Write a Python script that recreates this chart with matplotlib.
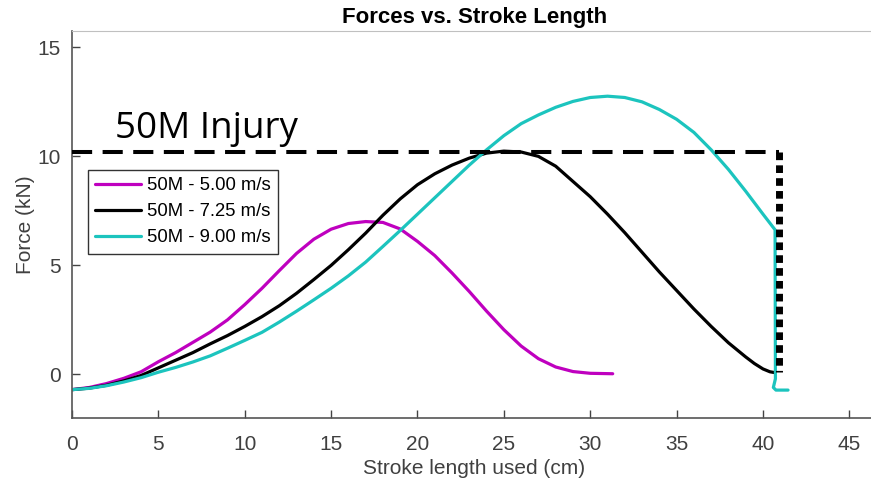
import numpy as np
import matplotlib
matplotlib.use('Agg')
import matplotlib.pyplot as plt

plt.rcParams['font.family'] = ['Liberation Sans', 'DejaVu Sans']

# Force vs stroke data
x_500 = [0, 1, 2, 3, 4, 5, 6, 7, 8, 9, 10, 11, 12, 13, 14, 15, 16, 17,
         18, 19, 20, 21, 22, 23, 24, 25, 26, 27, 28, 29, 30, 31.3]
f_500 = [-0.7, -0.6, -0.42, -0.18, 0.12, 0.58, 1.0, 1.47, 1.94, 2.5, 3.2,
         3.95, 4.76, 5.55, 6.2, 6.66, 6.92, 7.01, 6.97, 6.67, 6.1, 5.45,
         4.65, 3.8, 2.9, 2.05, 1.3, 0.72, 0.34, 0.13, 0.05, 0.03]

x_725 = [0, 1, 2, 3, 4, 5, 6, 7, 8, 9, 10, 11, 12, 13, 14, 15, 16, 17, 18,
         19, 20, 21, 22, 23, 24, 25, 26, 27, 28, 29, 30, 31, 32, 33, 34, 35,
         36, 37, 38, 39, 39.5, 40, 40.4, 40.7]
f_725 = [-0.7, -0.63, -0.5, -0.3, -0.05, 0.3, 0.65, 1.0, 1.4, 1.78, 2.2,
         2.65, 3.15, 3.72, 4.35, 5.0, 5.72, 6.48, 7.3, 8.05, 8.7, 9.2, 9.6,
         9.92, 10.15, 10.24, 10.2, 10.0, 9.55, 8.85, 8.15, 7.35, 6.5, 5.6,
         4.7, 3.85, 3.0, 2.2, 1.45, 0.8, 0.5, 0.25, 0.12, 0.08]

x_900 = [0, 1, 2, 3, 4, 5, 6, 7, 8, 9, 10, 11, 12, 13, 14, 15, 16, 17, 18,
         19, 20, 21, 22, 23, 24, 25, 26, 27, 28, 29, 30, 31, 32, 33, 34, 35,
         36, 37, 38, 39, 40, 40.7, 40.72, 40.6, 40.75, 41.45]
f_900 = [-0.7, -0.64, -0.52, -0.35, -0.15, 0.1, 0.32, 0.57, 0.85, 1.2, 1.56,
         1.93, 2.4, 2.9, 3.42, 3.95, 4.52, 5.15, 5.87, 6.6, 7.35, 8.1, 8.85,
         9.6, 10.3, 10.95, 11.5, 11.9, 12.25, 12.52, 12.7, 12.76, 12.7,
         12.5, 12.15, 11.7, 11.1, 10.3, 9.4, 8.4, 7.35, 6.63, -0.2, -0.6,
         -0.72, -0.72]

labels = ['50M - 5.00 m/s', '50M - 7.25 m/s', '50M - 9.00 m/s']
colors = ['#BF00BF', 'black', '#1CC4BE']

injury_force = 10.2
injury_stroke = 40.9

fig = plt.figure(figsize=(8.71, 4.88), dpi=100)
ax = fig.add_axes([72/871, 70/488, 805/871, 387/488])

for xs, fs, lab, c in zip([x_500, x_725, x_900], [f_500, f_725, f_900],
                          labels, colors):
    ax.plot(xs, fs, color=c, linewidth=2.3, label=lab,
            solid_joinstyle='round', solid_capstyle='round')

# injury threshold
ax.plot([0, injury_stroke], [injury_force, injury_force], color='black',
        linewidth=2.9, linestyle=(0, (5, 2.6)), zorder=5)
ax.plot([injury_stroke, injury_stroke], [injury_force, 0.1], color='black',
        linewidth=5, linestyle=(0, (1.1, 0.75)), dash_capstyle='butt',
        zorder=5)
ax.text(2.5, 10.84, '50M Injury', fontsize=26.5, family='Open Sans',
        va='baseline', ha='left')

ax.set_xlim(0, 46.6)
ax.set_ylim(-2, 15.75)
ax.set_xticks(np.arange(0, 50, 5))
ax.set_yticks([0, 5, 10, 15])
ax.tick_params(direction='in', length=6, width=1, colors='#444444',
               labelsize=15, labelcolor='#404040', pad=8)
ax.tick_params(axis='x', pad=12)
for s in ['left', 'bottom']:
    ax.spines[s].set_color('#555555')
    ax.spines[s].set_linewidth(1.2)
ax.spines['top'].set_color('#C0C0C0')
ax.spines['right'].set_visible(False)

ax.set_xlabel('Stroke length used (cm)', fontsize=15, color='#404040')
ax.set_ylabel('Force (kN)', fontsize=15, color='#404040', labelpad=2)
ax.set_title('Forces vs. Stroke Length', fontsize=16, fontweight='bold',
             pad=6)

ax.legend(loc='upper left', bbox_to_anchor=(88/871, 1-170/488),
          bbox_transform=fig.transFigure, borderaxespad=0, fontsize=13.3,
          handlelength=2.5, handletextpad=0.3, labelspacing=0.5,
          fancybox=False, edgecolor='#333333', framealpha=1,
          borderpad=0.38)

plt.savefig('out.png', dpi=100)
plt.close()
